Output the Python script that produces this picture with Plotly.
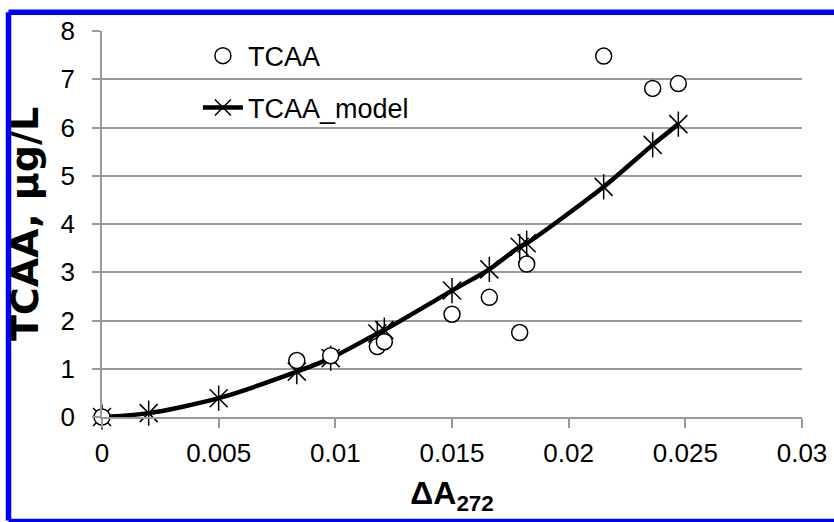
import plotly.graph_objects as go

# Observed TCAA
tcaa_x = [0, 0.00835, 0.0098, 0.0118, 0.0121, 0.0150, 0.0166, 0.0179, 0.0182, 0.0215, 0.0236, 0.0247]
tcaa_y = [0, 1.17, 1.27, 1.46, 1.56, 2.13, 2.48, 1.75, 3.17, 7.48, 6.81, 6.91]

# Model TCAA
model_x = [0, 0.002, 0.005, 0.00835, 0.0098, 0.0118, 0.0121, 0.0150, 0.0166, 0.0179, 0.0182, 0.0215, 0.0236, 0.0247]
model_y = [0, 0.08, 0.39, 0.94, 1.22, 1.73, 1.80, 2.62, 3.06, 3.53, 3.60, 4.77, 5.64, 6.07]

x_tickvals = [0, 0.005, 0.01, 0.015, 0.02, 0.025, 0.03]
x_ticktext = ["0", "0.005", "0.01", "0.015", "0.02", "0.025", "0.03"]
y_tickvals = [0, 1, 2, 3, 4, 5, 6, 7, 8]

FONT = "Liberation Sans, Arial, sans-serif"
GRID = "#9a9a9a"
BLUE = "#0000ff"

fig = go.Figure()

fig.add_trace(go.Scatter(
    x=model_x, y=model_y, mode="lines+markers", name="TCAA_model",
    line=dict(color="black", width=4.5, shape="spline", smoothing=0.8),
    marker=dict(symbol="x-thin-open", size=18, color="black", line=dict(width=1.5, color="black")),
    legend="legend2", cliponaxis=False,
))
fig.add_trace(go.Scatter(
    x=model_x, y=model_y, mode="markers", showlegend=False,
    marker=dict(symbol="line-ns-open", size=18, color="black", line=dict(width=1.5, color="black")),
    hoverinfo="skip", cliponaxis=False,
))
fig.add_trace(go.Scatter(
    x=tcaa_x, y=tcaa_y, mode="markers", name="TCAA",
    marker=dict(symbol="circle", size=16, color="white", line=dict(width=1.5, color="black")),
    legend="legend", cliponaxis=False,
))

# frame edges in paper coordinates (plot area: x 102..802 px, y 31..417 px)
fx0, fx1 = (8.5 - 102) / 700, (834 - 102) / 700
fy0, fy1 = (417 - 520.5) / 386, (417 - 12.3) / 386
frame = [
    dict(type="line", xref="paper", yref="paper", x0=fx0, x1=fx1, y0=fy1, y1=fy1,
         line=dict(color=BLUE, width=5.5), layer="above"),
    dict(type="line", xref="paper", yref="paper", x0=fx0, x1=fx0, y0=fy0, y1=fy1,
         line=dict(color=BLUE, width=5.5), layer="above"),
    dict(type="line", xref="paper", yref="paper", x0=fx0, x1=fx1, y0=fy0, y1=fy0,
         line=dict(color=BLUE, width=3.5), layer="above"),
]

fig.update_layout(
    width=834, height=522,
    margin=dict(l=102, r=32, t=31, b=105, autoexpand=False),
    paper_bgcolor="white", plot_bgcolor="white",
    font=dict(family=FONT, size=26, color="black"),
    xaxis=dict(
        range=[0, 0.03], tickvals=x_tickvals, ticktext=x_ticktext, automargin=False,
        showgrid=False, zeroline=False, showline=True, linecolor=GRID, linewidth=1.5,
        ticks="outside", ticklen=9, tickcolor=GRID, tickwidth=1.5,
        tickfont=dict(size=26), ticklabelstandoff=3,
        title=dict(text="ΔA<sub>272</sub>", font=dict(size=32, weight="bold"), standoff=15),
    ),
    yaxis=dict(
        range=[0, 8], tickvals=y_tickvals, automargin=False,
        showgrid=True, gridcolor=GRID, gridwidth=1.5, zeroline=False,
        showline=True, linecolor=GRID, linewidth=1.5,
        ticks="outside", ticklen=8, tickcolor=GRID, tickwidth=1.5,
        tickfont=dict(size=26), ticklabelstandoff=12,
        title=dict(text="TCAA, µg/L", font=dict(family="DejaVu Sans, Liberation Sans, sans-serif",
                                                size=38, weight="bold"), standoff=10),
    ),
    legend=dict(x=0.137, y=0.935, xanchor="left", yanchor="middle", itemwidth=40,
                bgcolor="rgba(0,0,0,0)", font=dict(size=27)),
    legend2=dict(x=0.137, y=0.8005, xanchor="left", yanchor="middle", itemwidth=40,
                 bgcolor="rgba(0,0,0,0)", font=dict(size=27)),
    shapes=frame,
)

fig.write_html("out.html", config={"displayModeBar": False},
               post_script="document.body.style.margin='0px';")
